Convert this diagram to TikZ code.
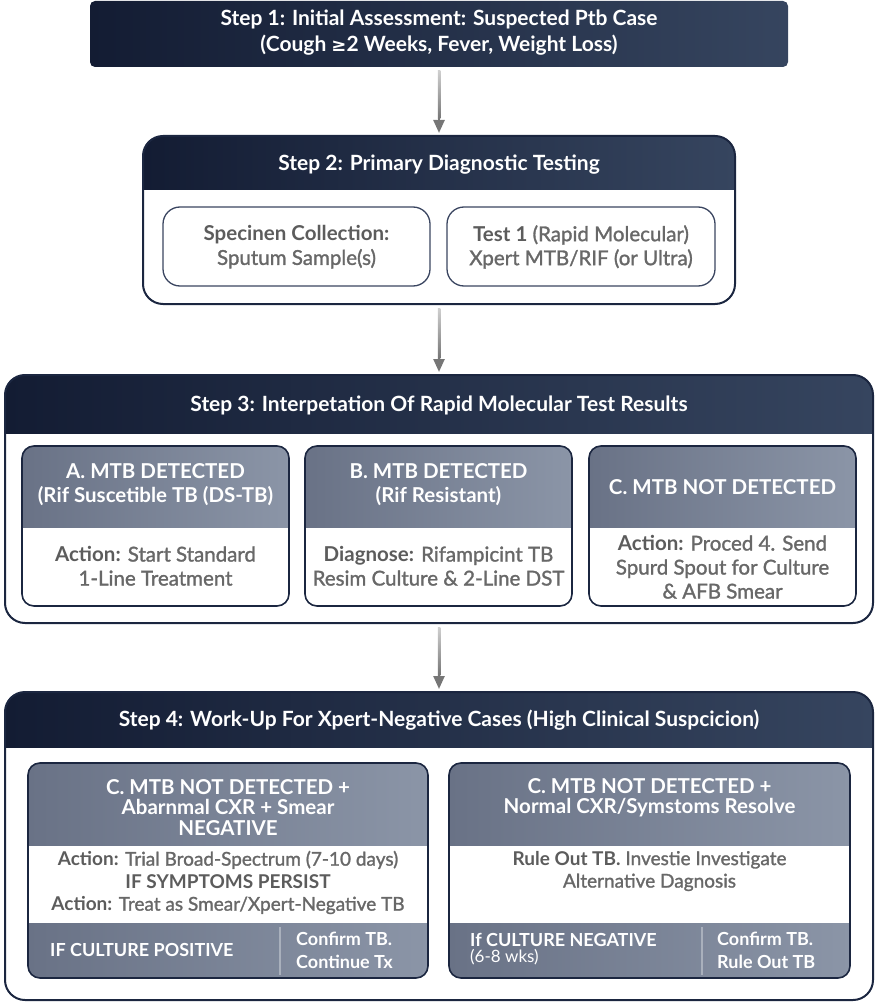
\documentclass[tikz,border=0pt]{standalone}
\usepackage{fontspec}
\setmainfont{Lato}
\newfontfamily\medfont{Lato}[FakeBold=1.4]
\newfontfamily\symfont{DejaVu Sans}
\usetikzlibrary{arrows.meta,calc}
\definecolor{navyL}{HTML}{131C33}
\definecolor{navyR}{HTML}{36455F}
\definecolor{navyB}{HTML}{1B2640}
\definecolor{slateL}{HTML}{697286}
\definecolor{slateR}{HTML}{8B95A7}
\definecolor{bodytxt}{HTML}{686868}
\definecolor{boldtxt}{HTML}{5C5C5C}
\definecolor{arrowc}{HTML}{767676}
\definecolor{arrowtop}{HTML}{D0D0D0}
\definecolor{divc}{HTML}{A9B0BC}
\definecolor{wboxb}{HTML}{3A4560}

\tikzset{
  hdr/.style={text=white, font=\fontsize{21}{26}\selectfont\bfseries, align=center, inner sep=0pt},
  whitehdr/.style={text=white, font=\fontsize{20.5}{24}\selectfont\bfseries, align=center, inner sep=0pt},
  bodytext/.style={text=bodytxt, font=\fontsize{20.5}{24}\selectfont\medfont, align=center, inner sep=0pt},
  smallbody/.style={text=bodytxt, font=\fontsize{19}{22.5}\selectfont\medfont, align=center, inner sep=0pt},
  bandtext/.style={text=white, font=\fontsize{18}{23}\selectfont\bfseries, align=left, inner sep=0pt, anchor=west},
  flow/.style={draw=arrowc, line width=2.4pt, -{Triangle[length=13pt,width=11pt]}, shorten <=3pt, shorten >=2pt},
}
\newcommand{\lb}[1]{{\color{boldtxt}\rmfamily\bfseries #1}}

% frame with dark gradient header band
\newcommand{\stepframe}[7]{%
  \begin{scope}
    \clip[rounded corners=#7] (#2,#3) rectangle (#4,#5);
    \shade[left color=navyL,right color=navyR] (#2,#3) rectangle (#4,#6);
  \end{scope}
  \node[draw=navyB, line width=2pt, rounded corners=#7, inner sep=0pt,
        minimum width={#4pt-#2pt}, minimum height={#5pt-#3pt}]
        (#1) at ({(#2+#4)/2},{(#3+#5)/2}) {};
}
% slate box with top band
\newcommand{\slatebox}[6]{%
  \begin{scope}
    \clip[rounded corners=12pt] (#2,#3) rectangle (#4,#5);
    \shade[left color=slateL,right color=slateR] (#2,#3) rectangle (#4,#6);
  \end{scope}
  \node[draw=navyB, line width=1.6pt, rounded corners=12pt, inner sep=0pt,
        minimum width={#4pt-#2pt}, minimum height={#5pt-#3pt}]
        (#1) at ({(#2+#4)/2},{(#3+#5)/2}) {};
}
% slate box with top and bottom bands
\newcommand{\slateboxtwo}[8]{%
  \begin{scope}
    \clip[rounded corners=12pt] (#2,#3) rectangle (#4,#5);
    \shade[left color=slateL,right color=slateR] (#2,#3) rectangle (#4,#6);
    \shade[left color=slateL,right color=slateR] (#2,#7) rectangle (#4,#5);
  \end{scope}
  \draw[divc, line width=1.2pt] (#8,{#7+4}) -- (#8,{#5-3});
  \node[draw=navyB, line width=1.6pt, rounded corners=12pt, inner sep=0pt,
        minimum width={#4pt-#2pt}, minimum height={#5pt-#3pt}]
        (#1) at ({(#2+#4)/2},{(#3+#5)/2}) {};
}
% connector with fading shaft
\newcommand{\flowarrow}[2]{%
  \draw[flow] (#1.south) -- (#2.north);
  \shade[top color=arrowtop, bottom color=arrowc]
     ($(#1.south)+(-1.25,3)$) rectangle ($(#2.north)+(1.25,-16)$);
}

\begin{document}
\begin{tikzpicture}[x=1pt,y=-1pt]
\useasboundingbox (0,0) rectangle (877,1003);

% ---------- Step 1 ----------
\shade[left color=navyL,right color=navyR, rounded corners=5pt] (90,1) rectangle (788,67);
\node[inner sep=0pt, minimum width=698pt, minimum height=66pt] (s1) at (439,34) {};
\node[hdr] (s1t) at (439,33) {Step 1: Initial Assessment: Suspected Ptb Case\\(Cough {\symfont\bfseries\fontsize{18}{26}\selectfont ≥}2 Weeks, Fever, Weight Loss)};

% ---------- Step 2 ----------
\stepframe{s2}{143}{136}{735}{304}{190}{20pt}
\node[hdr] (s2t) at (439,165) {Step 2: Primary Diagnostic Testing};
\node[draw=wboxb, line width=1.3pt, rounded corners=17pt, minimum width=267pt, minimum height=79pt, inner sep=0pt] (s2a) at (296.5,246.5) {};
\node[draw=wboxb, line width=1.3pt, rounded corners=17pt, minimum width=268pt, minimum height=79pt, inner sep=0pt] (s2b) at (581,246.5) {};
\node[bodytext] (s2at) at (296.5,247) {\lb{Specinen Collection:}\\Sputum Sample(s)};
\node[bodytext] (s2bt) at (581,247) {\lb{Test 1} (Rapid Molecular)\\Xpert MTB/RIF (or Ultra)};

% ---------- Step 3 ----------
\stepframe{s3}{5}{375}{873}{623}{433}{20pt}
\node[hdr] (s3t) at (439,405) {Step 3: Interpetation Of Rapid Molecular Test Results};
\slatebox{s3a}{22}{446}{289}{606}{527}
\slatebox{s3b}{305}{446}{572}{606}{527}
\slatebox{s3c}{589}{446}{856}{606}{527}
\node[whitehdr] (s3ah) at (155.5,485) {A. MTB DETECTED\\(Rif Suscetible TB (DS-TB)};
\node[whitehdr] (s3bh) at (438.5,485) {B. MTB DETECTED\\(Rif Resistant)};
\node[whitehdr] (s3ch) at (722.5,487) {C. MTB NOT DETECTED};
\node[bodytext] (s3ab) at (155.5,566) {\lb{Action:} Start Standard\\1-Line Treatment};
\node[bodytext] (s3bb) at (438.5,566) {\lb{Diagnose:} Rifampicint TB\\Resim Culture \& 2-Line DST};
\node[bodytext] (s3cb) at (722.5,567) {\lb{Action:} Proced 4. Send\\Spurd Spout for Culture\\\& AFB Smear};

% ---------- Step 4 ----------
\stepframe{s4}{5}{692}{873}{1000}{747}{20pt}
\node[hdr] (s4t) at (439,720) {Step 4: Work-Up For Xpert-Negative Cases (High Clinical Suspcicion)};
\slateboxtwo{s4a}{28}{763}{428}{978}{845}{923}{280}
\slateboxtwo{s4b}{449}{763}{850}{978}{845}{923}{702}
\node[whitehdr, font=\fontsize{20.5}{20.5}\selectfont\bfseries] (s4ah) at (228,807.5) {C. MTB NOT DETECTED +\\Abarnmal CXR + Smear\\NEGATIVE};
\node[whitehdr, font=\fontsize{20.5}{20.5}\selectfont\bfseries] (s4bh) at (649.5,797.5) {C. MTB NOT DETECTED +\\Normal CXR/Symstoms Resolve};
\node[smallbody] (s4ab) at (228,882.5) {\lb{Action:} Trial Broad-Spectrum (7-10 days)\\\lb{IF SYMPTOMS PERSIST}\\\lb{Action:} Treat as Smear/Xpert-Negative TB};
\node[smallbody] (s4bb) at (649.5,871) {\lb{Rule Out TB.} Investie Investigate\\Alternative Dagnosis};
\node[bandtext] (s4al) at (50,950) {IF CULTURE POSITIVE};
\node[bandtext, font=\fontsize{18}{23}\selectfont\bfseries] (s4ar) at (296,950.5) {Confirm TB.\\Continue Tx};
\node[bandtext, font=\fontsize{18}{16}\selectfont\bfseries] (s4bl) at (470,949) {If CULTURE NEGATIVE\\{\mdseries\fontsize{17}{16}\selectfont (6-8 wks)}};
\node[bandtext, font=\fontsize{18}{23}\selectfont\bfseries] (s4br) at (717,950.5) {Confirm TB.\\Rule Out TB};

% ---------- connectors ----------
\flowarrow{s1}{s2}
\flowarrow{s2}{s3}
\flowarrow{s3}{s4}
\end{tikzpicture}
\end{document}
